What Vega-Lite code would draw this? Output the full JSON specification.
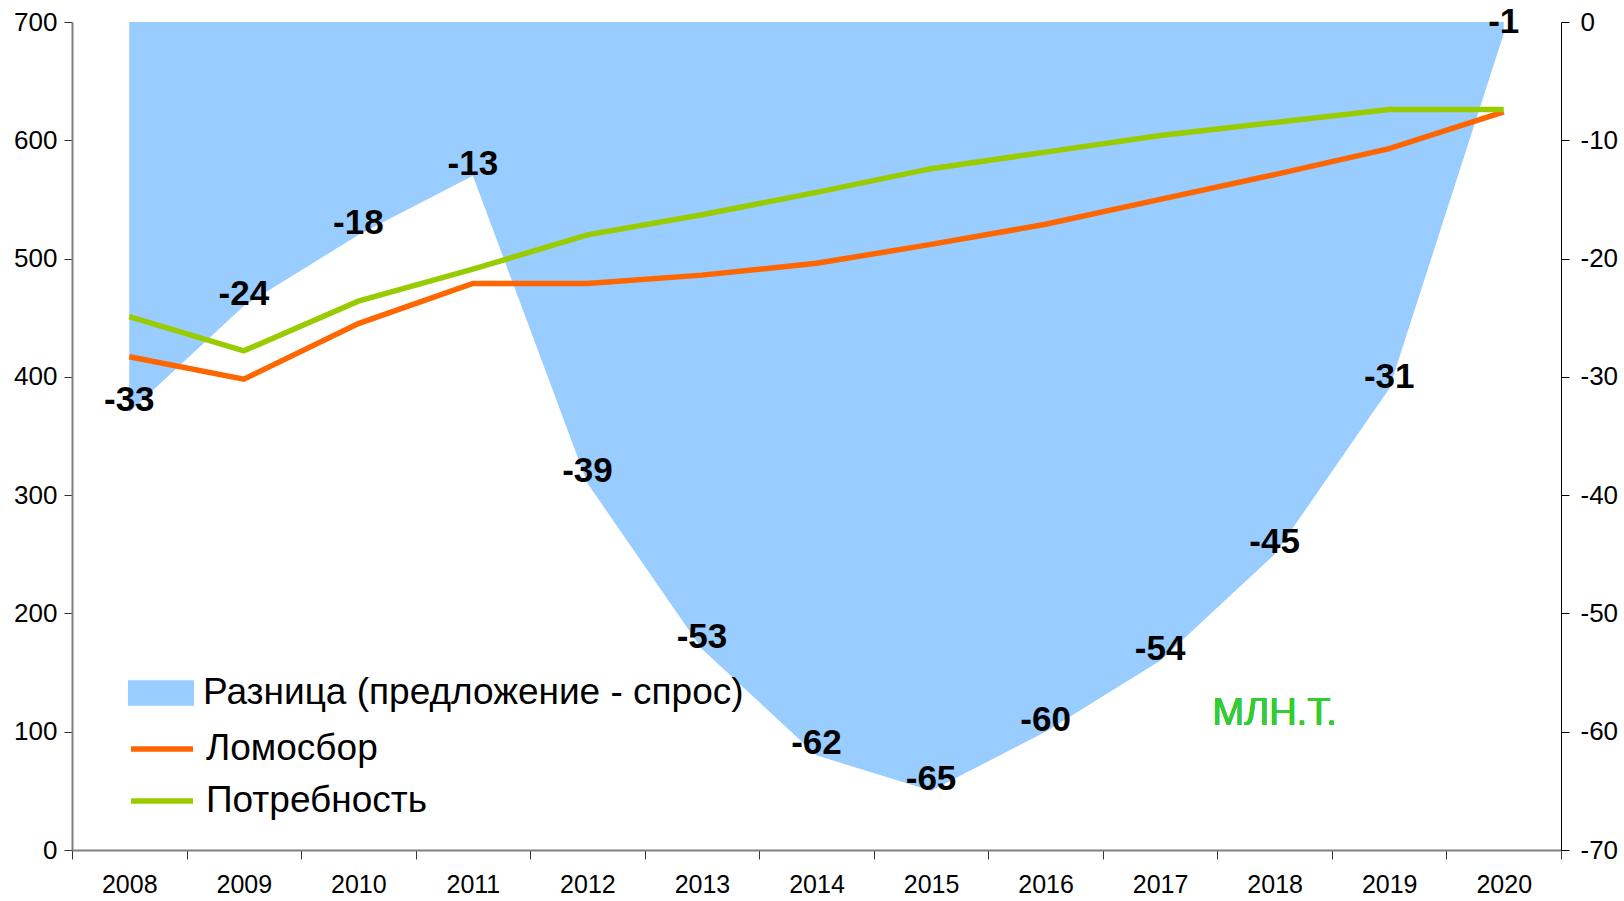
{
  "$schema": "https://vega.github.io/schema/vega-lite/v6.json",
  "width": 1489,
  "height": 828,
  "autosize": {"type": "none"},
  "padding": {"left": 72, "top": 22, "right": 63, "bottom": 51},
  "background": "white",
  "config": {
    "view": {"stroke": null},
    "font": "Liberation Sans",
    "axis": {"labelFont": "Liberation Sans", "labelFontSize": 26, "labelColor": "black", "grid": false}
  },
  "datasets": {
    "d": [
      {"year": "2008", "diff": -33, "lom": 417, "potr": 451},
      {"year": "2009", "diff": -24, "lom": 398, "potr": 422},
      {"year": "2010", "diff": -18, "lom": 445, "potr": 464},
      {"year": "2011", "diff": -13, "lom": 479, "potr": 491},
      {"year": "2012", "diff": -39, "lom": 479, "potr": 520},
      {"year": "2013", "diff": -53, "lom": 486, "potr": 537},
      {"year": "2014", "diff": -62, "lom": 496, "potr": 556},
      {"year": "2015", "diff": -65, "lom": 512, "potr": 576},
      {"year": "2016", "diff": -60, "lom": 529, "potr": 590},
      {"year": "2017", "diff": -54, "lom": 550, "potr": 604},
      {"year": "2018", "diff": -45, "lom": 571, "potr": 615},
      {"year": "2019", "diff": -31, "lom": 593, "potr": 626},
      {"year": "2020", "diff": -1, "lom": 624, "potr": 626}
    ]
  },
  "data": {"name": "d"},
  "encoding": {
    "x": {
      "field": "year", "type": "ordinal", "bandPosition": 0.5,
      "scale": {"type": "band", "paddingInner": 0, "paddingOuter": 0},
      "axis": {"title": null, "labelAngle": 0, "labelFontSize": 25, "tickBand": "extent", "domainColor": "#808080", "domainWidth": 2, "tickColor": "#333333", "tickSize": 9, "labelPadding": 13}
    }
  },
  "layer": [
    {
      "layer": [
        {
          "mark": {"type": "area", "opacity": 1},
          "encoding": {
            "y": {
              "field": "diff", "type": "quantitative",
              "scale": {"domain": [-70, 0], "nice": false},
              "axis": {"orient": "right", "title": null, "values": [0, -10, -20, -30, -40, -50, -60, -70], "labelExpr": "'' + datum.value", "domainColor": "black", "tickColor": "black", "tickSize": 8, "labelPadding": 11}
            },
            "fill": {
              "datum": "Разница (предложение - спрос)",
              "scale": {"domain": ["Разница (предложение - спрос)"], "range": ["#99ccff"]},
              "legend": {
                "orient": "none", "legendX": 56, "legendY": 638, "title": null,
                "labelFont": "Liberation Sans", "labelFontSize": 37, "labelColor": "black", "labelLimit": 0,
                "symbolType": "M-1,-0.39H1V0.39H-1Z", "symbolSize": 4356, "symbolStrokeWidth": 0, "symbolOpacity": 1, "labelOffset": 9
              }
            }
          }
        },
        {
          "mark": {"type": "text", "fontSize": 35, "fontWeight": "bold", "font": "Liberation Sans", "color": "black", "baseline": "middle", "dy": -12},
          "encoding": {
            "y": {"field": "diff", "type": "quantitative"},
            "text": {"field": "diff", "type": "nominal"}
          }
        }
      ]
    },
    {
      "layer": [
        {
          "mark": {"type": "line", "strokeWidth": 5.5},
          "encoding": {
            "y": {
              "field": "lom", "type": "quantitative",
              "scale": {"domain": [0, 700], "nice": false},
              "axis": {"orient": "left", "title": null, "values": [0, 100, 200, 300, 400, 500, 600, 700], "domainColor": "#808080", "domainWidth": 2, "tickColor": "#333333", "tickSize": 8, "labelPadding": 7}
            },
            "stroke": {
              "datum": "Ломосбор",
              "scale": {"domain": ["Ломосбор", "Потребность"], "range": ["#ff6600", "#99cc00"]},
              "legend": {
                "orient": "none", "legendX": 56, "legendY": 693, "title": null,
                "labelFont": "Liberation Sans", "labelFontSize": 37, "labelColor": "black", "labelLimit": 0,
                "symbolType": "stroke", "symbolSize": 3844, "symbolStrokeWidth": 5.5, "rowPadding": -6, "labelOffset": 10
              }
            }
          }
        },
        {
          "mark": {"type": "line", "strokeWidth": 5.5},
          "encoding": {
            "y": {"field": "potr", "type": "quantitative"},
            "stroke": {"datum": "Потребность"}
          }
        },
        {
          "mark": {"type": "text", "fontSize": 38, "font": "Liberation Sans", "color": "#33cc33", "baseline": "middle", "align": "center"},
          "encoding": {
            "x": {"datum": "2018", "bandPosition": 0.5},
            "y": {"datum": 115},
            "text": {"value": "МЛН.Т."}
          }
        }
      ]
    }
  ],
  "resolve": {"scale": {"y": "independent"}}
}
